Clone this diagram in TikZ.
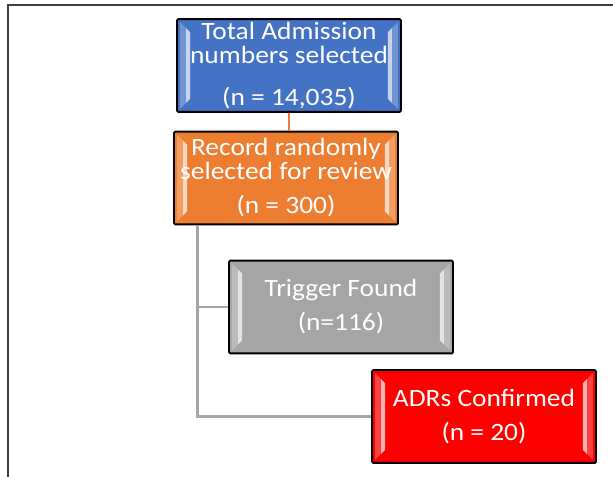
\documentclass[tikz,border=0pt]{standalone}
\usepackage{fontspec}
\setmainfont{Carlito}[FakeStretch=1.1]
\definecolor{boxblue}{HTML}{4472C4}
\definecolor{boxorange}{HTML}{ED7D31}
\definecolor{boxgray}{HTML}{A5A5A5}
\definecolor{boxred}{HTML}{FF0000}
\definecolor{linegray}{HTML}{A6A6A6}
\definecolor{framegray}{HTML}{3F3F3F}
\begin{document}
\begin{tikzpicture}[
  x=0.03cm, y=-0.03cm,
  stage/.style={
    rectangle,
    draw=black,
    line width=1.6pt,
    rounded corners=1pt,
    minimum width=6.72cm,
    minimum height=2.78cm,
    inner sep=0pt,
    align=center,
    text=white,
    font=\fontsize{21.3}{20.5}\selectfont
  },
  link/.style={draw=linegray, line width=2.5pt}
]

  \useasboundingbox (0,0) rectangle (613,477);
  \draw[framegray, line width=1.6pt] (8,480) -- (8,5) -- (616,5);

  \node (total) at (289,65.5) [stage, fill=boxblue]{Total Admission\\numbers selected\\[0.54cm](n = 14,035)};
  \node (record) at (286,178) [stage, fill=boxorange]{Record randomly\\selected for review\\[0.3cm](n = 300)};
  \node (trigger) at (341,307) [stage, fill=boxgray]{Trigger Found\\[0.3cm](n=116)};
  \node (adr) at (484,416.5) [stage, fill=boxred]{ADRs Confirmed\\[0.3cm](n = 20)};

  \foreach \n in {total,record,trigger,adr} {
    \fill[white, fill opacity=0.25] ([shift={(4,4)}]\n.north west) -- ([shift={(14,14)}]\n.north west) -- ([shift={(14,-14)}]\n.south west) -- ([shift={(4,-4)}]\n.south west) -- cycle;
    \fill[white, fill opacity=0.6] ([shift={(10,10)}]\n.north west) -- ([shift={(14,14)}]\n.north west) -- ([shift={(14,-14)}]\n.south west) -- ([shift={(10,-10)}]\n.south west) -- cycle;
    \fill[white, fill opacity=0.25] ([shift={(-4,4)}]\n.north east) -- ([shift={(-14,14)}]\n.north east) -- ([shift={(-14,-14)}]\n.south east) -- ([shift={(-4,-4)}]\n.south east) -- cycle;
    \fill[white, fill opacity=0.6] ([shift={(-10,10)}]\n.north east) -- ([shift={(-14,14)}]\n.north east) -- ([shift={(-14,-14)}]\n.south east) -- ([shift={(-10,-10)}]\n.south east) -- cycle;
  }

  \draw[boxorange, line width=2.5pt] (total.south) -- (total.south |- record.north);
  \coordinate (trunk) at ([shift={(24,0)}]record.south west);
  \draw[link] (trunk) |- (trigger.west);
  \draw[link] (trunk) |- (adr.west);

\end{tikzpicture}
\end{document}
